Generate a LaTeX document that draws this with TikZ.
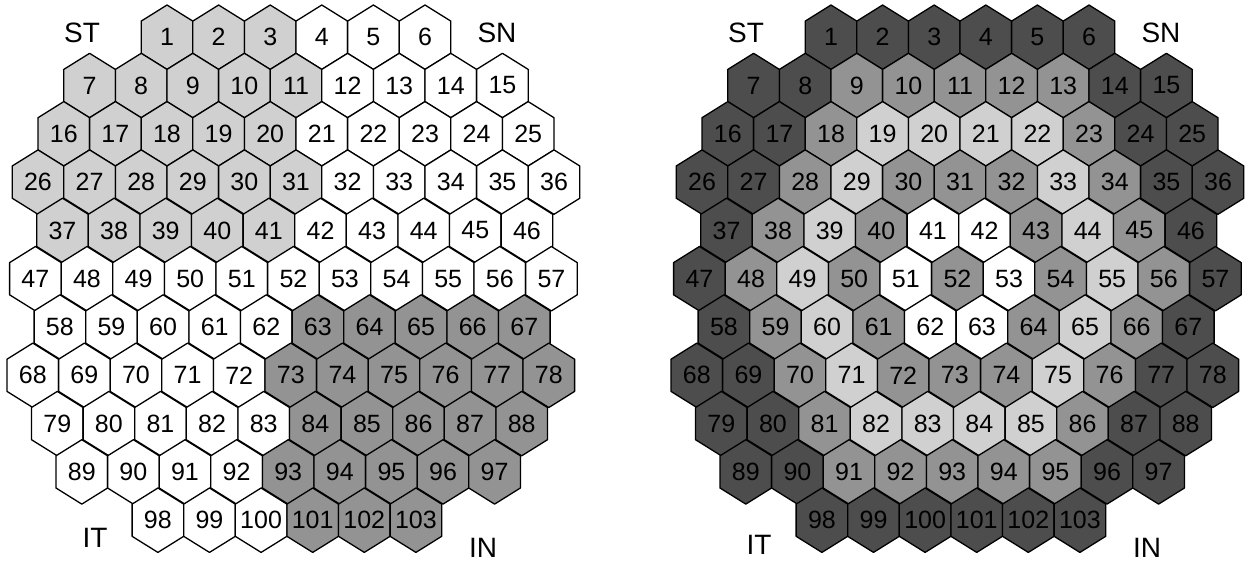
\documentclass[tikz,border=0pt]{standalone}
\usepackage{fontspec}
\setmainfont{Liberation Sans}
\usetikzlibrary{positioning}
\definecolor{hexw}{HTML}{FFFFFF}
\definecolor{hexl}{HTML}{D0D0D0}
\definecolor{hexm}{HTML}{939393}
\definecolor{hexd}{HTML}{4D4D4D}
\begin{document}
\begin{tikzpicture}[x=1pt,y=-1pt,
  hx/.style={draw=black,line width=1.3pt,line join=round},
  num/.style={font=\fontsize{25}{25}\selectfont,inner sep=0pt},
  lab/.style={font=\fontsize{28}{28}\selectfont,inner sep=0pt}]
\useasboundingbox (0,0) rectangle (1250,566);
% left grid
\foreach \r/\off/\first/\cols in {
  1/2.5/1/{l,l,l,w,w,w},
  2/1/7/{l,l,l,l,l,w,w,w,w},
  3/0.5/16/{l,l,l,l,l,w,w,w,w,w},
  4/0/26/{l,l,l,l,l,l,w,w,w,w,w},
  5/0.5/37/{l,l,l,l,l,w,w,w,w,w},
  6/0/47/{w,w,w,w,w,w,w,w,w,w,w},
  7/0.5/58/{w,w,w,w,w,m,m,m,m,m},
  8/0/68/{w,w,w,w,w,m,m,m,m,m,m},
  9/0.5/79/{w,w,w,w,w,m,m,m,m,m},
  10/1/89/{w,w,w,w,m,m,m,m,m},
  11/2.5/98/{w,w,w,m,m,m}}{
  \foreach \c [count=\k from 0] in \cols {
    \pgfmathtruncatemacro\n{\first+\k}
    \pgfmathsetmacro\x{38+(\off+\k)*51.6-max(\r-4,0)*1.3}
    \pgfmathsetmacro\y{37.2+(\r-1)*48.3}
    \filldraw[hx,fill=hex\c] (\x,\y) ++(0,-32.2) -- ++(25.8,16.1) -- ++(0,32.2)
      -- ++(-25.8,16.1) -- ++(-25.8,-16.1) -- ++(0,-32.2) -- cycle;
    \node[num] (L\n) at (\x,\y) {\n};
  }
}
% right grid
\foreach \r/\off/\first/\cols in {
  1/2.5/1/{d,d,d,d,d,d},
  2/1/7/{d,d,m,m,m,m,m,d,d},
  3/0.5/16/{d,d,m,l,l,l,l,m,d,d},
  4/0/26/{d,d,m,l,m,m,m,l,m,d,d},
  5/0.5/37/{d,m,l,m,w,w,m,l,m,d},
  6/0/47/{d,m,l,m,w,m,w,m,l,m,d},
  7/0.5/58/{d,m,l,m,w,w,m,l,m,d},
  8/0/68/{d,d,m,l,m,m,m,l,m,d,d},
  9/0.5/79/{d,d,m,l,l,l,l,m,d,d},
  10/1/89/{d,d,m,m,m,m,m,d,d},
  11/2.5/98/{d,d,d,d,d,d}}{
  \foreach \c [count=\k from 0] in \cols {
    \pgfmathtruncatemacro\n{\first+\k}
    \pgfmathsetmacro\x{702+(\off+\k)*51.6-max(\r-4,0)*1.3}
    \pgfmathsetmacro\y{37.2+(\r-1)*48.3}
    \filldraw[hx,fill=hex\c] (\x,\y) ++(0,-32.2) -- ++(25.8,16.1) -- ++(0,32.2)
      -- ++(-25.8,16.1) -- ++(-25.8,-16.1) -- ++(0,-32.2) -- cycle;
    \node[num] (R\n) at (\x,\y) {\n};
  }
}
% corner labels
\node[lab] (stL) at (82,33) {ST};
\node[lab] (snL) at (497,33) {SN};
\node[lab] (itL) at (95,538) {IT};
\node[lab] (inL) at (483,548) {IN};
\node[lab] (stR) at (746,33) {ST};
\node[lab] (snR) at (1161,33) {SN};
\node[lab] (itR) at (759,545) {IT};
\node[lab] (inR) at (1147,548) {IN};
\end{tikzpicture}
\end{document}
